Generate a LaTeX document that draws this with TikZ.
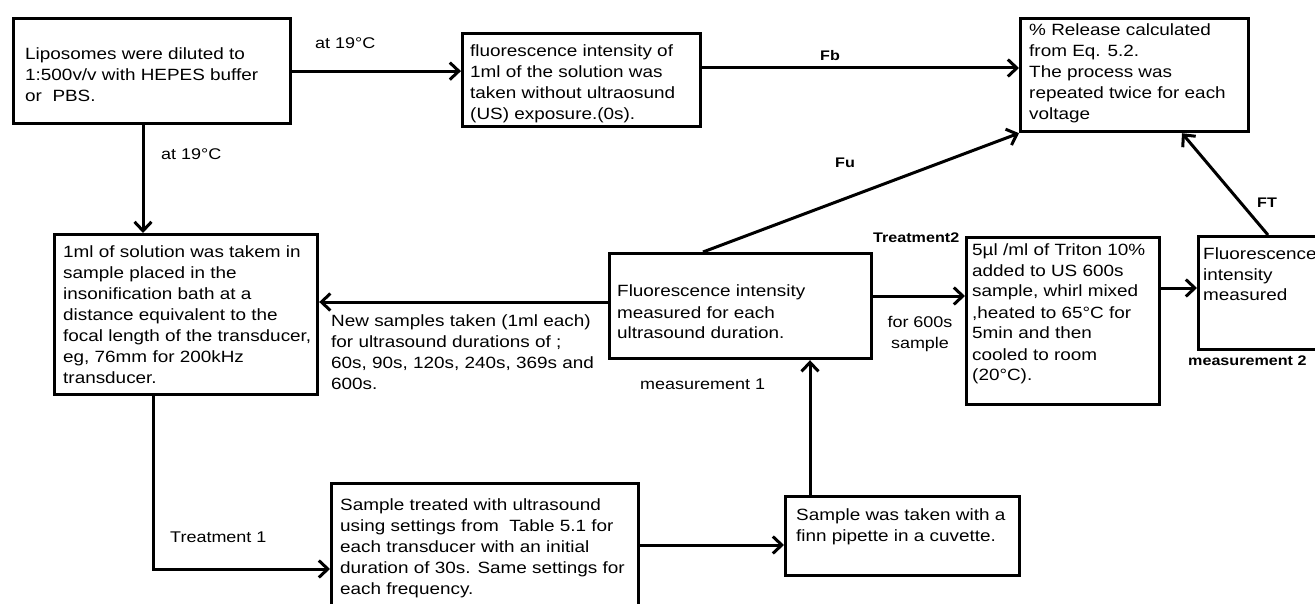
\documentclass[tikz,border=0pt]{standalone}
\usepackage{fontspec}
\setmainfont{Liberation Sans}[FakeStretch=1.16]
\usetikzlibrary{arrows.meta,calc}
\newcommand\tb[1]{\begin{tabular}[t]{@{}l@{}}#1\end{tabular}}
\begin{document}
\begin{tikzpicture}[x=1pt,y=-1pt,
 box/.style={draw, line width=3.2pt, inner sep=0pt, anchor=north west},
 txt/.style={inner sep=0pt, anchor=base west, font=\fontsize{16.3}{21}\selectfont},
 lbl/.style={inner sep=0pt, anchor=base west, font=\fontsize{15.5}{21}\selectfont},
 blbl/.style={inner sep=0pt, anchor=base west, font=\bfseries\fontsize{13.9}{21}\selectfont},
 arr/.style={line width=3pt, -{Straight Barb[length=9pt,width=17pt,line width=3pt]}}]
\useasboundingbox (0,0) rectangle (1315,604);
\clip (0,0) rectangle (1315,604);
\fill[white] (0,0) rectangle (1315,604);

% boxes
\node[box, minimum width=277, minimum height=105] (A) at (12,17) {};
\node[box, minimum width=238, minimum height=93] (B) at (461,32) {};
\node[box, minimum width=228, minimum height=113] (R) at (1019,17) {};
\node[box, minimum width=263, minimum height=160] (C) at (53,233) {};
\node[box, minimum width=262, minimum height=105] (M) at (608,252) {};
\node[box, minimum width=193, minimum height=167] (T2) at (965,236) {};
\node[box, minimum width=140, minimum height=113] (F2) at (1197,235) {};
\node[box, minimum width=307, minimum height=140] (S) at (330,482) {};
\node[box, minimum width=234, minimum height=79] (P) at (784,495) {};

% texts
\node[txt] (tA) at (25,60) {\tb{Liposomes were diluted to\\1:500v/v with HEPES buffer\\or\ \ PBS.}};
\node[txt] (tB) at (470,57) {\tb{fluorescence intensity of\\1ml of the solution was\\taken without ultraosund\\(US) exposure.(0s).}};
\node[txt] (tR) at (1029,36) {\tb{\% Release calculated\\from Eq. 5.2.\\The process was\\repeated twice for each\\voltage}};
\node[txt] (tC) at (63,258) {\tb{1ml of solution was takem in\\sample placed in the\\insonification bath at a\\distance equivalent to the\\focal length of the transducer,\\eg, 76mm for 200kHz\\transducer.}};
\node[txt] (tM) at (617,297) {\tb{Fluorescence intensity\\measured for each\\ultrasound duration.}};
\node[txt] (tT2) at (972,255) {\tb{5µl /ml of Triton 10\%\\added to US 600s\\sample, whirl mixed\\,heated to 65°C for\\5min and then\\cooled to room\\(20°C).}};
\node[txt] (tF2) at (1203,259) {\tb{Fluorescence\\intensity\\measured}};
\node[txt] (tS) at (340,510) {\tb{Sample treated with ultrasound\\using settings from\ \ Table 5.1 for\\each transducer with an initial\\duration of 30s. Same settings for\\each frequency.}};
\node[txt] (tP) at (796,520) {\tb{Sample was taken with a\\finn pipette in a cuvette.}};
\node[txt] (tN) at (331,326) {\tb{New samples taken (1ml each)\\for ultrasound durations of ;\\60s, 90s, 120s, 240s, 369s and\\600s.}};

% labels
\node[lbl] (l1) at (315,49) {at 19°C};
\node[lbl] (l2) at (161,160) {at 19°C};
\node[lbl] (l3) at (170,542) {Treatment 1};
\node[lbl] (l4) at (640,389) {measurement 1};
\node[lbl, anchor=base, align=center] (l5) at (920,327) {\tb{\hfill for 600s\hfill\null\\\hfill sample\hfill\null}};
\node[blbl] (l6) at (820,61) {Fb};
\node[blbl] (l7) at (835,168) {Fu};
\node[blbl] (l8) at (1257,208) {FT};
\node[blbl] (l9) at (873,243) {Treatment2};
\node[blbl] (l10) at (1188,365) {measurement 2};

% helper coordinates
\coordinate (xa) at (143,0);
\coordinate (xc) at (153,0);
\coordinate (xp) at (810,0);
\coordinate (yb) at (0,68);
\coordinate (ym) at (0,302);
\coordinate (yt) at (0,296);
\coordinate (yf) at (0,288);
\coordinate (ys) at (0,569);
\coordinate (yp) at (0,545);

% connectors
\draw[arr] (A.east) -- (A.east -| B.west);
\draw[arr] (A.south -| xa) -- (C.north -| xa);
\draw[arr] (B.east |- yb) -- (R.west |- yb);
\draw[arr] ($(M.north west)+(95,0)$) -- (R.south west);
\draw[arr] ($(F2.north west)+(71,0)$) -- ($(R.south west)+(163,0)$);
\draw[arr] (M.west |- ym) -- (C.east |- ym);
\draw[arr] (M.east |- yt) -- (T2.west |- yt);
\draw[arr] (T2.east |- yf) -- (F2.west |- yf);
\draw[arr] (C.south -| xc) |- (S.west |- ys);
\draw[arr] (S.east |- yp) -- (P.west |- yp);
\draw[arr] (P.north -| xp) -- (M.south -| xp);
\end{tikzpicture}
\end{document}
